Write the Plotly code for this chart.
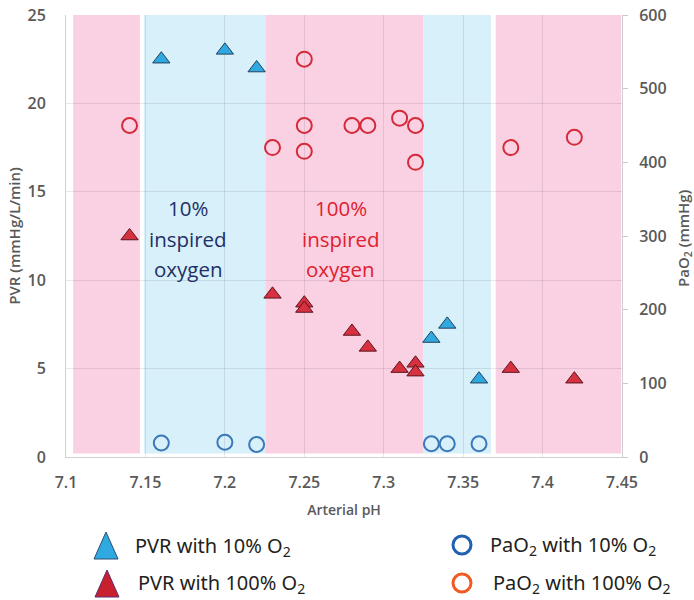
import plotly.graph_objects as go

# ---- data ----
ph_pvr10 = [7.16, 7.20, 7.22, 7.33, 7.34, 7.36]
pvr10 = [22.5, 23.0, 22.0, 6.7, 7.5, 4.4]

ph_pvr100 = [7.14, 7.23, 7.25, 7.25, 7.28, 7.29, 7.31, 7.32, 7.32, 7.38, 7.42]
pvr100 = [12.5, 9.2, 8.7, 8.4, 7.1, 6.2, 5.0, 5.3, 4.8, 5.0, 4.4]

ph_pao2_10 = [7.16, 7.20, 7.22, 7.33, 7.34, 7.36]
pao2_10 = [19, 20, 17, 18, 18, 18]

ph_pao2_100 = [7.14, 7.23, 7.25, 7.25, 7.25, 7.28, 7.29, 7.31, 7.32, 7.32, 7.38, 7.42]
pao2_100 = [450, 420, 540, 450, 415, 450, 450, 460, 450, 400, 420, 434]

band_starts = [7.1045, 7.149, 7.2255, 7.325, 7.3705]
band_ends = [7.1465, 7.2255, 7.325, 7.3675, 7.4495]
band_kind = ["100", "10", "100", "10", "100"]

x_ticks = [7.1, 7.15, 7.2, 7.25, 7.3, 7.35, 7.4, 7.45]
x_ticktext = ["7.1", "7.15", "7.2", "7.25", "7.3", "7.35", "7.4", "7.45"]

legend_labels = ["PVR with 10% O<sub>2</sub>", "PVR with 100% O<sub>2</sub>",
                 "PaO<sub>2</sub> with 10% O<sub>2</sub>", "PaO<sub>2</sub> with 100% O<sub>2</sub>"]

PINK = "#FAD1E3"
LBLUE = "#D8F0FA"
TICKC = "#595959"
FONT = "Open Sans"

fig = go.Figure()

fig.add_trace(go.Scatter(x=ph_pao2_10, y=pao2_10, yaxis="y2", mode="markers",
                         marker=dict(symbol="circle-open", size=15, color="#3A78B8",
                                     line=dict(width=2, color="#3A78B8")),
                         name="PaO2 with 10% O2", showlegend=False))
fig.add_trace(go.Scatter(x=ph_pao2_100, y=pao2_100, yaxis="y2", mode="markers",
                         marker=dict(symbol="circle-open", size=15, color="#D42A3A",
                                     line=dict(width=2, color="#D42A3A")),
                         name="PaO2 with 100% O2", showlegend=False))
fig.add_trace(go.Scatter(x=ph_pvr10, y=pvr10, mode="markers",
                         marker=dict(symbol="triangle-up", size=15, color="#2FA9DF",
                                     line=dict(width=1, color="#23405E")),
                         name="PVR with 10% O2", showlegend=False))
fig.add_trace(go.Scatter(x=ph_pvr100, y=pvr100, mode="markers",
                         marker=dict(symbol="triangle-up", size=15, color="#D7303F",
                                     line=dict(width=1, color="#5A1520")),
                         name="PVR with 100% O2", showlegend=False))

shapes = []
for s, e, k in zip(band_starts, band_ends, band_kind):
    shapes.append(dict(type="rect", xref="x", yref="y", x0=s, x1=e, y0=0.2, y1=25,
                       fillcolor=PINK if k == "100" else LBLUE, line=dict(width=0),
                       layer="below"))

# ---- custom legend (paper coords; plot area 66..622 x, 15..457 y) ----
def px_x(p):
    return (p - 66) / 556.0

def px_y(p):
    return (457 - p) / 442.0

tri_rows = [(106, 559, "#2FA9DF", "#2A4F75"), (107, 597, "#C8202F", "#5B2C6F")]
for cx, by, fc, lc in tri_rows:
    shapes.append(dict(type="path", xref="paper", yref="paper",
                       xsizemode="pixel", ysizemode="pixel",
                       xanchor=px_x(cx), yanchor=px_y(by),
                       path="M -12,0 L 12,0 L 0,27 Z",
                       fillcolor=fc, line=dict(color=lc, width=1)))
circ_rows = [(462, 545, "#2160B0"), (462, 583, "#F15A22")]
for cx, cy, lc in circ_rows:
    shapes.append(dict(type="circle", xref="paper", yref="paper",
                       xsizemode="pixel", ysizemode="pixel",
                       xanchor=px_x(cx), yanchor=px_y(cy),
                       x0=-9, x1=9, y0=-9, y1=9,
                       line=dict(color=lc, width=3)))

annotations = []
leg_pos = [(133, 546), (136, 584), (488, 545), (491, 583)]
for (lx, ly), txt in zip(leg_pos, legend_labels):
    annotations.append(dict(xref="paper", yref="paper", x=px_x(lx), y=px_y(ly),
                            text=txt, showarrow=False, xanchor="left", yanchor="middle",
                            font=dict(family="Noto Sans", size=20, color="#231F20")))

for i, line in enumerate(["10%", "inspired", "oxygen"]):
    annotations.append(dict(x=7.177, y=[14.1, 12.35, 10.65][i], xref="x", yref="y",
                            text=line, showarrow=False,
                            font=dict(family=FONT, size=20.5, color="#1F2F66")))
for i, line in enumerate(["100%", "inspired", "oxygen"]):
    annotations.append(dict(x=7.273, y=[14.1, 12.35, 10.65][i], xref="x", yref="y",
                            text=line, showarrow=False,
                            font=dict(family=FONT, size=20.5, color="#E0202E")))

tickfont = dict(family=FONT, size=16, color=TICKC, weight=600)
titlefont = dict(family=FONT, size=14, color=TICKC, weight=600)
ytitlefont = dict(family=FONT, size=15, color=TICKC, weight=600)

# right axis title
annotations.append(dict(xref="paper", yref="paper", x=px_x(684), y=px_y(238),
                        text="PaO<sub>2</sub> (mmHg)", textangle=-90, showarrow=False,
                        xanchor="center", yanchor="middle", font=ytitlefont))

fig.update_layout(
    width=694, height=600,
    margin=dict(l=66, r=72, t=15, b=143),
    paper_bgcolor="white", plot_bgcolor="white",
    showlegend=False,
    shapes=shapes, annotations=annotations,
    xaxis=dict(range=[7.1, 7.45], tickvals=x_ticks, ticktext=x_ticktext,
               showgrid=True, gridcolor="rgba(0,0,0,0.09)", gridwidth=1,
               zeroline=False, showline=True, linecolor="#D0D0D0", linewidth=1,
               ticks="", ticklabelstandoff=11, tickfont=tickfont, automargin=False,
               title=dict(text="Arterial pH", font=titlefont, standoff=12)),
    yaxis=dict(range=[0, 25], tickvals=[0, 5, 10, 15, 20, 25],
               showgrid=True, gridcolor="rgba(0,0,0,0.09)", gridwidth=1,
               zeroline=False, showline=True, linecolor="#D0D0D0", linewidth=1,
               ticks="", ticklabelstandoff=16, tickfont=tickfont, automargin=False,
               title=dict(text="PVR (mmHg/L/min)", font=ytitlefont, standoff=3)),
    yaxis2=dict(range=[0, 600], tickvals=[0, 100, 200, 300, 400, 500, 600],
                overlaying="y", side="right", showgrid=False, zeroline=False,
                showline=True, linecolor="#D0D0D0", linewidth=1,
                ticks="outside", ticklen=5, tickcolor="#C8C8C8",
                ticklabelstandoff=8, tickfont=tickfont, automargin=False),
)

fig.write_html("out.html", config={"displayModeBar": False},
               post_script="document.body.style.margin='0';")
